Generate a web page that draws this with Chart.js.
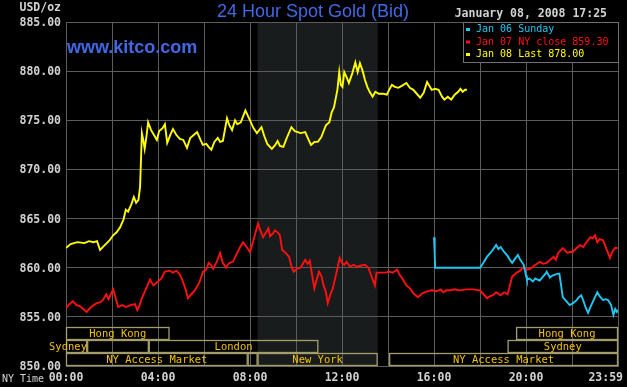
<!DOCTYPE html>
<html>
<head>
<meta charset="utf-8">
<title>24 Hour Spot Gold (Bid)</title>
<style>
  html, body { margin: 0; padding: 0; background: #000; overflow: hidden; }
  #wrap { width: 627px; height: 387px; position: relative; }
</style>
<script src="https://cdn.jsdelivr.net/npm/chart.js@4.4.1/dist/chart.umd.min.js"></script>
</head>
<body>
<div id="wrap"><canvas id="gold" width="627" height="387"></canvas></div>
<script>
// ── Data (hours NY time, USD/oz) ─────────────────────────────────────────────

const jan08Hours = [0.0,0.2,0.5,0.8,1.0,1.2,1.35,1.48,1.6,1.9,2.05,2.2,2.35,2.5,2.6,2.7,2.85,2.95,3.05,3.15,3.22,3.3,3.36,3.42,3.5,3.57,3.7,3.85,3.95,4.05,4.2,4.3,4.4,4.55,4.65,4.8,4.95,5.1,5.26,5.4,5.55,5.7,5.85,5.95,6.1,6.2,6.32,6.45,6.6,6.7,6.82,7.0,7.1,7.22,7.35,7.45,7.6,7.8,7.9,8.0,8.15,8.3,8.5,8.62,8.75,8.95,9.1,9.2,9.3,9.45,9.6,9.8,9.95,10.2,10.4,10.55,10.65,10.8,10.95,11.1,11.3,11.45,11.55,11.65,11.8,11.88,11.95,12.02,12.1,12.2,12.3,12.45,12.58,12.68,12.78,12.9,13.0,13.1,13.2,13.33,13.45,13.6,13.8,13.95,14.05,14.17,14.3,14.45,14.6,14.8,14.95,15.1,15.25,15.4,15.55,15.7,15.8,15.9,16.05,16.2,16.35,16.45,16.6,16.75,16.9,17.05,17.15,17.25,17.35,17.43];
const jan08Prices = [862.0,862.4,862.6,862.5,862.7,862.6,862.7,861.8,862.1,862.8,863.3,863.6,864.1,864.9,865.9,865.7,866.5,867.2,866.6,866.9,868.2,873.7,873.0,872.1,873.4,874.8,874.0,873.4,873.0,873.9,874.2,874.6,872.7,873.6,874.1,873.5,873.1,873.0,872.2,873.2,873.5,873.8,873.0,872.5,872.6,872.3,872.0,872.8,873.2,872.8,872.9,875.2,874.5,874.0,875.0,874.6,874.8,876.0,875.5,875.0,874.2,873.7,874.3,873.4,872.6,872.1,872.5,872.9,872.4,872.3,873.2,874.3,873.9,873.7,873.8,873.0,872.5,872.8,872.8,873.3,874.5,874.8,875.8,876.3,878.1,879.9,878.6,878.4,879.9,879.4,878.8,879.8,880.9,879.9,880.8,880.0,879.1,878.4,877.9,877.4,877.9,877.7,877.7,877.6,878.1,878.6,878.4,878.3,878.5,878.8,878.3,878.1,877.7,877.3,877.8,878.9,878.5,878.1,878.2,878.1,877.4,877.1,877.4,877.1,877.6,877.9,878.2,877.9,878.1,878.1];

const jan07Hours = [0.0,0.15,0.3,0.45,0.6,0.75,0.9,1.05,1.2,1.35,1.5,1.6,1.75,1.85,2.05,2.15,2.27,2.45,2.6,2.8,3.0,3.1,3.2,3.3,3.45,3.65,3.8,4.0,4.15,4.3,4.5,4.65,4.8,4.95,5.05,5.2,5.3,5.45,5.6,5.8,5.96,6.1,6.2,6.3,6.4,6.55,6.7,6.8,6.95,7.1,7.26,7.4,7.55,7.7,7.85,8.0,8.15,8.35,8.45,8.57,8.7,8.8,8.87,9.0,9.09,9.2,9.3,9.4,9.55,9.7,9.82,9.9,10.05,10.2,10.3,10.4,10.5,10.6,10.72,10.8,10.9,11.0,11.1,11.2,11.3,11.38,11.5,11.6,11.75,11.9,12.0,12.1,12.2,12.35,12.5,12.65,12.8,13.0,13.15,13.3,13.43,13.5,13.7,13.9,14.05,14.2,14.4,14.5,14.65,14.8,14.96,15.1,15.3,15.5,15.7,15.9,16.1,16.3,16.4,16.55,16.7,16.9,17.1,17.4,17.7,18.0,18.15,18.3,18.45,18.56,18.7,18.9,19.05,19.2,19.4,19.6,19.75,19.9,20.05,20.2,20.35,20.6,20.75,20.9,21.05,21.2,21.3,21.4,21.6,21.8,21.9,22.04,22.2,22.35,22.5,22.6,22.8,22.9,23.0,23.1,23.2,23.35,23.5,23.65,23.75,23.87,23.98];
const jan07Prices = [855.9,856.3,856.6,856.2,856.1,855.8,855.5,855.9,856.2,856.4,856.5,856.7,857.3,856.8,857.8,857.0,856.0,856.2,856.0,856.2,856.3,855.7,856.2,856.9,857.7,858.8,858.2,858.6,858.9,859.6,859.7,859.5,859.7,859.3,858.8,857.8,856.9,857.3,857.7,858.5,859.6,859.8,860.5,860.3,859.9,860.6,861.5,860.6,860.0,860.5,860.6,861.3,862.0,862.6,862.1,861.6,862.8,864.5,863.8,863.1,863.6,864.0,863.2,863.5,863.8,863.6,863.3,861.8,861.5,861.1,860.0,859.6,859.9,860.0,860.4,860.8,860.4,860.7,859.0,857.9,858.8,859.6,859.2,858.2,857.5,856.4,857.3,857.9,859.4,861.0,860.5,860.3,860.6,860.1,860.3,860.1,860.2,860.3,860.0,859.0,858.2,859.5,859.5,859.5,859.6,859.5,859.8,859.3,858.8,858.2,857.9,857.4,857.0,857.4,857.6,857.7,857.6,857.8,857.5,857.7,857.7,857.8,857.7,857.8,857.8,857.7,857.3,856.9,857.1,857.2,857.5,857.2,857.5,857.3,859.1,859.5,859.7,860.1,859.8,859.9,860.2,860.6,860.4,860.5,860.8,861.1,860.8,861.5,862.0,861.5,861.6,861.6,862.0,862.3,862.1,862.5,863.1,863.0,863.3,862.6,862.9,862.8,861.9,861.0,861.6,862.0,862.0];

const jan06Hours = [16.0,16.03,16.05,16.5,17.0,17.5,18.0,18.15,18.3,18.45,18.55,18.7,18.8,18.9,19.05,19.2,19.3,19.4,19.55,19.65,19.75,19.9,20.0,20.04,20.15,20.3,20.4,20.5,20.6,20.7,20.85,20.9,21.04,21.15,21.26,21.4,21.45,21.5,21.6,21.75,21.9,22.05,22.2,22.3,22.4,22.5,22.6,22.7,22.8,22.9,23.0,23.1,23.2,23.35,23.45,23.57,23.7,23.8,23.88,23.95,23.99];
const jan06Prices = [863.1,861.5,860.0,860.0,860.0,860.0,860.0,860.5,861.1,861.5,861.8,862.3,861.9,862.1,861.6,861.2,860.8,860.5,861.0,861.3,860.8,860.3,859.2,858.8,858.9,858.6,858.9,858.8,858.7,859.0,859.4,859.6,859.0,859.2,859.3,859.4,859.4,858.6,857.0,856.6,856.2,856.4,856.7,857.0,857.2,856.6,855.9,855.4,856.0,856.5,857.0,857.5,857.1,856.7,856.8,856.7,856.2,855.2,855.8,855.5,855.7];

const legendLabels = ["Jan 06 Sunday", "Jan 07 NY close 859.30", "Jan 08 Last 878.00"];

const yTicks = [850, 855, 860, 865, 870, 875, 880, 885];
const xGridHours = [0, 2, 4, 6, 8, 10, 12, 14, 16, 18, 20, 22, 24];
const xLabelHours = [0, 4, 8, 12, 16, 20, 24];
const xLabels = ["00:00", "04:00", "08:00", "12:00", "16:00", "20:00", "23:59"];

// COMEX session (shaded)
const comexHours = [8.33, 13.55];

// market sessions: name, start h, end h, row (0 = top)
const sessionNames = ["Hong Kong", "Sydney", "", "London", "NY Access Market", "", "New York", "NY Access Market", "Sydney", "Hong Kong"];
const sessionStart = [0, 0, 0.92, 3.6, 0, 7.9, 8.33, 14.05, 19.2, 19.57];
const sessionEnd   = [4.5, 0.92, 3.6, 10.97, 7.9, 8.33, 13.55, 24, 24, 24];
const sessionRow   = [0, 1, 1, 1, 2, 2, 2, 2, 1, 0];

// ── Drawing ──────────────────────────────────────────────────────────────────

const MONO = '"DejaVu Sans Mono", monospace';
const SANS = '"Liberation Sans", Arial, sans-serif';
const GRID = "#5c5c5c";
const COLORS = ["#1ec8f2", "#ff1010", "#ffff00"];

const toXY = (hs, ps) => hs.map((h, i) => ({ x: h, y: ps[i] }));

const decor = {
  id: "decor",
  beforeDraw(chart) {
    const { ctx, chartArea: a, scales: { x } } = chart;
    ctx.save();
    ctx.fillStyle = "#000";
    ctx.fillRect(0, 0, chart.width, chart.height);
    const x0 = x.getPixelForValue(comexHours[0]);
    const x1 = x.getPixelForValue(comexHours[1]);
    ctx.fillStyle = "#191c1c";
    ctx.fillRect(x0, a.top, x1 - x0, a.bottom - a.top);
    ctx.restore();
  },
  afterDraw(chart) {
    const { ctx, chartArea: a, scales: { x, y } } = chart;
    ctx.save();

    // titles
    ctx.textBaseline = "middle";
    ctx.fillStyle = "#4169e6";
    ctx.font = "18px " + SANS;
    ctx.textAlign = "center";
    ctx.fillText("24 Hour Spot Gold (Bid)", 313, 12);
    ctx.font = "bold 18px " + SANS;
    ctx.textAlign = "left";
    ctx.fillText("www.kitco.com", 67, 48);

    ctx.fillStyle = "#d2d2d2";
    ctx.font = "bold 11.5px " + MONO;
    ctx.textAlign = "right";
    ctx.fillText("January 08, 2008 17:25", 607, 14);
    ctx.fillText("USD/oz", 61, 8);

    // y labels
    yTicks.forEach(v => ctx.fillText(v.toFixed(2), 61, y.getPixelForValue(v) + 1));

    // x labels
    ctx.textAlign = "center";
    xLabelHours.forEach((h, i) => {
      const w = ctx.measureText(xLabels[i]).width;
      let px = x.getPixelForValue(h);
      px = Math.min(px, chart.width - 4 - w / 2);
      ctx.fillText(xLabels[i], px, 378);
    });
    ctx.font = "10px " + MONO;
    ctx.textAlign = "left";
    ctx.fillText("NY Time", 2, 379);

    // market sessions
    const rowH = 13;
    ctx.font = "10.5px " + MONO;
    ctx.textAlign = "center";
    ctx.strokeStyle = "#a59e6c";
    ctx.lineWidth = 1.3;
    sessionNames.forEach((name, i) => {
      const sx = x.getPixelForValue(sessionStart[i]);
      const ex = x.getPixelForValue(sessionEnd[i]);
      const top = a.bottom - (3 - sessionRow[i]) * rowH;
      ctx.strokeRect(sx + 0.5, top + 0.5, ex - sx - 1, rowH - 1);
      if (name) {
        ctx.fillStyle = "#f2c200";
        let cx = (sx + ex) / 2;
        if (sessionEnd[i] - sessionStart[i] < 2) cx = sx + 2;
        ctx.fillText(name, cx, top + rowH / 2 + 0.5);
      }
    });

    // legend
    const lx = 463, ly = 22, lw = 155, lh = 40;
    ctx.fillStyle = "#000";
    ctx.fillRect(lx, ly, lw, lh);
    ctx.strokeStyle = "#707070";
    ctx.lineWidth = 1;
    ctx.strokeRect(lx + 0.5, ly + 0.5, lw, lh);
    ctx.font = "10px " + MONO;
    ctx.textAlign = "left";
    legendLabels.forEach((t, i) => {
      const ty = 29 + i * 12.5;
      ctx.fillStyle = COLORS[i];
      ctx.fillRect(466, ty - 1, 4, 3);
      ctx.fillText(t, 476, ty + 0.5);
    });

    ctx.restore();
  },
};

new Chart(document.getElementById("gold").getContext("2d"), {
  type: "line",
  data: {
    datasets: [
      { label: legendLabels[0], data: toXY(jan06Hours, jan06Prices), borderColor: COLORS[0] },
      { label: legendLabels[1], data: toXY(jan07Hours, jan07Prices), borderColor: COLORS[1] },
      { label: legendLabels[2], data: toXY(jan08Hours, jan08Prices), borderColor: COLORS[2] },
    ].map(d => ({ ...d, borderWidth: 1.9, pointRadius: 0, tension: 0, fill: false })),
  },
  options: {
    responsive: false,
    devicePixelRatio: 1,
    animation: false,
    layout: { padding: { left: 66, right: 9, top: 22, bottom: 21 } },
    plugins: { legend: { display: false }, title: { display: false }, tooltip: { enabled: false } },
    scales: {
      x: {
        type: "linear", min: 0, max: 24,
        afterBuildTicks: s => { s.ticks = xGridHours.map(v => ({ value: v })); },
        ticks: { display: false },
        grid: { color: GRID, drawTicks: false },
        border: { color: GRID },
      },
      y: {
        min: 850, max: 885,
        afterBuildTicks: s => { s.ticks = yTicks.map(v => ({ value: v })); },
        ticks: { display: false },
        grid: { color: GRID, drawTicks: false },
        border: { color: GRID },
      },
    },
  },
  plugins: [decor],
});
</script>
</body>
</html>
